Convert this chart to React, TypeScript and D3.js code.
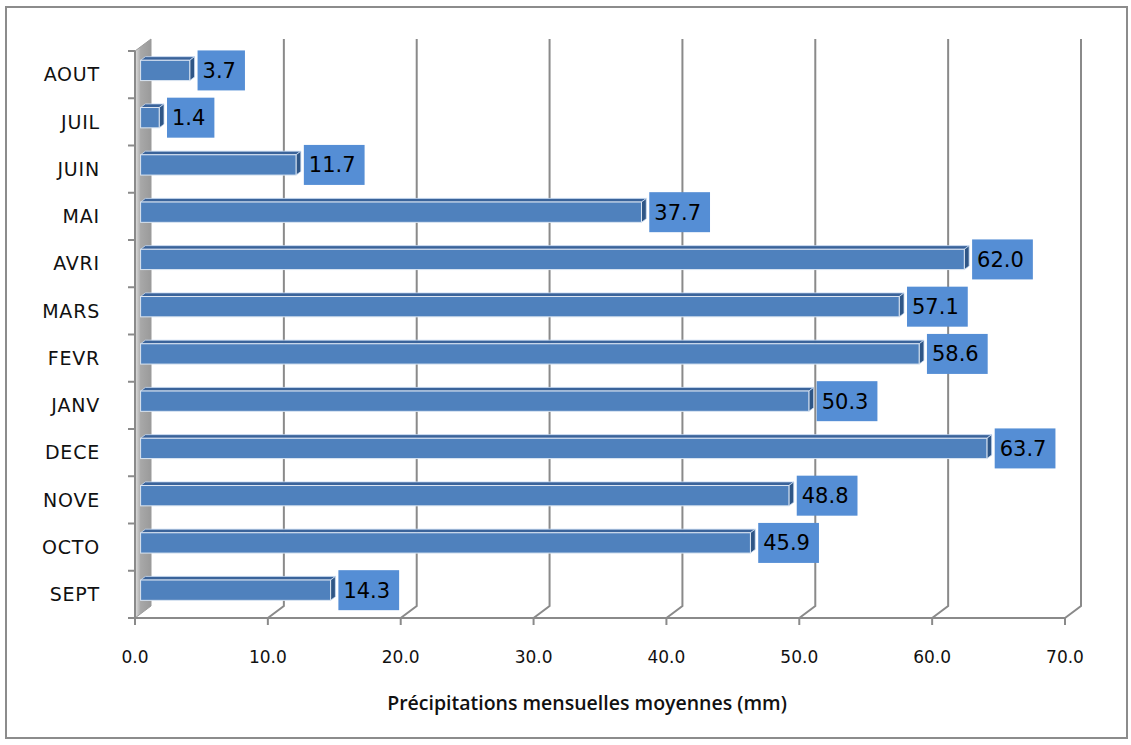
import * as React from "react";
import { scaleBand, scaleLinear, range } from "d3";

const months = ["AOUT", "JUIL", "JUIN", "MAI", "AVRI", "MARS", "FEVR", "JANV", "DECE", "NOVE", "OCTO", "SEPT"];
const rainfall = [3.7, 1.4, 11.7, 37.7, 62.0, 57.1, 58.6, 50.3, 63.7, 48.8, 45.9, 14.3];
const xTicks = [0, 10, 20, 30, 40, 50, 60, 70];
const axisTitle = "Précipitations mensuelles moyennes (mm)";

const W = 1131;
const H = 745;
const left = 135;
const right = 1065;
const top = 51;
const bottom = 618;
// depth of the 3D box (back plane offset)
const DX = 16;
const DY = -12;

const labelWidth = (s: string) =>
  s.split("").reduce((a, c) => a + (c === "." ? 0.318 : 0.636), 0) * 21;

export default function App() {
  const x = scaleLinear().domain([0, 70]).range([left, right]);
  const y = scaleBand().domain(months).range([top, bottom]).paddingInner(0.57).paddingOuter(0.285);

  const fx = 0.35; // bar front depth
  const bx = 0.65; // bar back depth
  const grey = "#8a8a8a";

  const bar = (d: number, i: number) => {
    const m = months[i];
    const x0 = x(0) + DX * fx;
    const x1 = x(d) + DX * fx;
    const y0 = (y(m) as number) + DY * fx;
    const h = y.bandwidth();
    const ox = DX * (bx - fx);
    const oy = DY * (bx - fx);
    const label = d.toFixed(1);
    const bw = labelWidth(label) + 14;
    const cy = y0 + h / 2;
    return (
      <g key={m}>
        <polygon
          points={`${x0},${y0} ${x0 + ox},${y0 + oy} ${x1 + ox},${y0 + oy} ${x1},${y0}`}
          fill="#3A639A"
          stroke="#c6d9f1"
          strokeWidth={0.8}
        />
        <polygon
          points={`${x1},${y0} ${x1 + ox},${y0 + oy} ${x1 + ox},${y0 + h + oy} ${x1},${y0 + h}`}
          fill="#2F5686"
          stroke="#c6d9f1"
          strokeWidth={0.8}
        />
        <rect x={x0} y={y0} width={x1 - x0} height={h} fill="#4F81BD" stroke="#dce6f2" strokeWidth={1} />
        <rect x={x1 + ox + 3} y={cy - 20} width={bw} height={40} fill="#558ED5" />
        <text x={x1 + ox + 8} y={cy} dy="0.36em" fontSize={21} fill="#000" fontFamily="DejaVu Sans">
          {label}
        </text>
      </g>
    );
  };

  return (
    <svg width={W} height={H} style={{ position: "absolute", left: 0, top: 0, background: "#fff" }}>
      <defs>
        <linearGradient id="wall" x1="0" x2="1" y1="0" y2="0">
          <stop offset="0" stopColor="#e2e2e2" />
          <stop offset="0.35" stopColor="#a8a8a8" />
          <stop offset="1" stopColor="#9a9a9a" />
        </linearGradient>
      </defs>
      <rect x={6} y={7} width={1121} height={731} fill="#fff" stroke="#8c8c8c" strokeWidth={2} />

      {/* side wall */}
      <polygon
        points={`${left},${top} ${left + DX},${top + DY} ${left + DX},${bottom + DY} ${left},${bottom}`}
        fill="url(#wall)"
        stroke="#9a9a9a"
        strokeWidth={1}
      />

      {/* gridlines on back wall */}
      {xTicks.slice(1).map((t) => (
        <polyline
          key={t}
          points={`${x(t) + DX},${top + DY} ${x(t) + DX},${bottom + DY} ${x(t)},${bottom}`}
          fill="none"
          stroke={grey}
          strokeWidth={2}
        />
      ))}

      {/* axes */}
      <line x1={left} x2={left} y1={top} y2={bottom} stroke={grey} strokeWidth={2} />
      <line x1={left} x2={right} y1={bottom} y2={bottom} stroke={grey} strokeWidth={2} />
      {range(months.length + 1).map((i) => {
        const yy = top + (i * (bottom - top)) / months.length;
        return <line key={i} x1={left - 7} x2={left} y1={yy} y2={yy} stroke={grey} strokeWidth={2} />;
      })}
      {xTicks.map((t) => (
        <line key={t} x1={x(t)} x2={x(t)} y1={bottom} y2={bottom + 7} stroke={grey} strokeWidth={2} />
      ))}

      {/* category labels */}
      {months.map((m) => (
        <text
          key={m}
          x={left - 35}
          y={(y(m) as number) + y.bandwidth() / 2}
          dy="0.36em"
          textAnchor="end"
          fontSize={19}
          letterSpacing={0.8}
          fontFamily="DejaVu Sans"
          fill="#111"
        >
          {m}
        </text>
      ))}

      {/* value ticks */}
      {xTicks.map((t) => (
        <text
          key={t}
          x={x(t)}
          y={657}
          dy="0.36em"
          textAnchor="middle"
          fontSize={17}
          fontFamily="DejaVu Sans"
          fill="#111"
        >
          {t.toFixed(1)}
        </text>
      ))}

      {rainfall.map(bar)}

      <text
        x={587}
        y={703}
        dy="0.36em"
        textAnchor="middle"
        fontSize={19.5}
        fontWeight={600}
        fontFamily="Open Sans"
        fill="#111"
      >
        {axisTitle}
      </text>
    </svg>
  );
}
